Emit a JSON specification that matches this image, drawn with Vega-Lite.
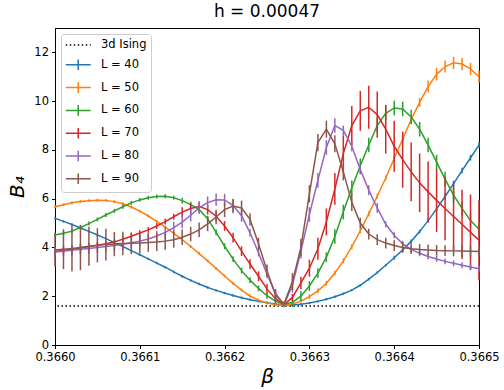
{
  "$schema": "https://vega.github.io/schema/vega-lite/v6.json",
  "width": 424,
  "height": 317,
  "autosize": "none",
  "padding": {"left": 55, "top": 28, "right": 25, "bottom": 45},
  "background": "white",
  "config": {
    "font": "DejaVu Sans",
    "view": {"stroke": "#000", "strokeWidth": 1},
    "axis": {"grid": false, "domainColor": "#000", "tickColor": "#000", "labelColor": "#000", "labelFontSize": 11.5, "tickSize": 3.5, "labelPadding": 3, "labelFlush": false, "labelFont": "DejaVu Sans", "titleFont": "DejaVu Sans", "titleFontWeight": "normal", "titleColor": "#000", "titleFontSize": 20, "titleFontStyle": "italic"}
  },
  "title": {"text": "h = 0.00047", "fontSize": 17, "fontWeight": "normal", "font": "DejaVu Sans", "offset": 7, "color": "#000"},
  "datasets": {
    "d": [
      {"L":"L = 40","b":0.36600,"y":5.20,"e":0.05},{"L":"L = 40","b":0.36601,"y":5.07,"e":0.05},{"L":"L = 40","b":0.36602,"y":4.94,"e":0.05},{"L":"L = 40","b":0.36603,"y":4.80,"e":0.05},{"L":"L = 40","b":0.36604,"y":4.66,"e":0.05},{"L":"L = 40","b":0.36605,"y":4.51,"e":0.05},{"L":"L = 40","b":0.36606,"y":4.36,"e":0.05},{"L":"L = 40","b":0.36607,"y":4.20,"e":0.05},{"L":"L = 40","b":0.36608,"y":4.04,"e":0.05},{"L":"L = 40","b":0.36609,"y":3.87,"e":0.05},
      {"L":"L = 40","b":0.36610,"y":3.70,"e":0.05},{"L":"L = 40","b":0.36611,"y":3.53,"e":0.05},{"L":"L = 40","b":0.36612,"y":3.36,"e":0.05},{"L":"L = 40","b":0.36613,"y":3.19,"e":0.05},{"L":"L = 40","b":0.36614,"y":3.00,"e":0.05},{"L":"L = 40","b":0.36615,"y":2.82,"e":0.05},{"L":"L = 40","b":0.36616,"y":2.65,"e":0.05},{"L":"L = 40","b":0.36617,"y":2.50,"e":0.05},{"L":"L = 40","b":0.36618,"y":2.36,"e":0.05},{"L":"L = 40","b":0.36619,"y":2.24,"e":0.05},
      {"L":"L = 40","b":0.36620,"y":2.13,"e":0.05},{"L":"L = 40","b":0.36621,"y":2.03,"e":0.05},{"L":"L = 40","b":0.36622,"y":1.94,"e":0.05},{"L":"L = 40","b":0.36623,"y":1.86,"e":0.05},{"L":"L = 40","b":0.36624,"y":1.79,"e":0.05},{"L":"L = 40","b":0.36625,"y":1.73,"e":0.05},{"L":"L = 40","b":0.36626,"y":1.68,"e":0.05},{"L":"L = 40","b":0.36627,"y":1.65,"e":0.05},{"L":"L = 40","b":0.36628,"y":1.64,"e":0.05},{"L":"L = 40","b":0.36629,"y":1.67,"e":0.05},
      {"L":"L = 40","b":0.36630,"y":1.72,"e":0.05},{"L":"L = 40","b":0.36631,"y":1.79,"e":0.05},{"L":"L = 40","b":0.36632,"y":1.88,"e":0.05},{"L":"L = 40","b":0.36633,"y":1.98,"e":0.05},{"L":"L = 40","b":0.36634,"y":2.10,"e":0.05},{"L":"L = 40","b":0.36635,"y":2.25,"e":0.05},{"L":"L = 40","b":0.36636,"y":2.45,"e":0.05},{"L":"L = 40","b":0.36637,"y":2.70,"e":0.05},{"L":"L = 40","b":0.36638,"y":2.97,"e":0.05},{"L":"L = 40","b":0.36639,"y":3.27,"e":0.05},
      {"L":"L = 40","b":0.36640,"y":3.58,"e":0.08},{"L":"L = 40","b":0.36641,"y":3.90,"e":0.08},{"L":"L = 40","b":0.36642,"y":4.25,"e":0.08},{"L":"L = 40","b":0.36643,"y":4.65,"e":0.08},{"L":"L = 40","b":0.36644,"y":5.10,"e":0.08},{"L":"L = 40","b":0.36645,"y":5.58,"e":0.08},{"L":"L = 40","b":0.36646,"y":6.09,"e":0.12},{"L":"L = 40","b":0.36647,"y":6.62,"e":0.12},{"L":"L = 40","b":0.36648,"y":7.15,"e":0.12},{"L":"L = 40","b":0.36649,"y":7.68,"e":0.12},{"L":"L = 40","b":0.36650,"y":8.20,"e":0.12},

      {"L":"L = 50","b":0.36600,"y":5.67,"e":0.06},{"L":"L = 50","b":0.36601,"y":5.75,"e":0.06},{"L":"L = 50","b":0.36602,"y":5.83,"e":0.06},{"L":"L = 50","b":0.36603,"y":5.88,"e":0.06},{"L":"L = 50","b":0.36604,"y":5.92,"e":0.06},{"L":"L = 50","b":0.36605,"y":5.94,"e":0.06},{"L":"L = 50","b":0.36606,"y":5.93,"e":0.06},{"L":"L = 50","b":0.36607,"y":5.88,"e":0.06},{"L":"L = 50","b":0.36608,"y":5.79,"e":0.06},{"L":"L = 50","b":0.36609,"y":5.66,"e":0.06},
      {"L":"L = 50","b":0.36610,"y":5.49,"e":0.06},{"L":"L = 50","b":0.36611,"y":5.29,"e":0.06},{"L":"L = 50","b":0.36612,"y":5.07,"e":0.06},{"L":"L = 50","b":0.36613,"y":4.83,"e":0.06},{"L":"L = 50","b":0.36614,"y":4.58,"e":0.06},{"L":"L = 50","b":0.36615,"y":4.32,"e":0.06},{"L":"L = 50","b":0.36616,"y":4.04,"e":0.06},{"L":"L = 50","b":0.36617,"y":3.75,"e":0.06},{"L":"L = 50","b":0.36618,"y":3.45,"e":0.06},{"L":"L = 50","b":0.36619,"y":3.14,"e":0.06},
      {"L":"L = 50","b":0.36620,"y":2.83,"e":0.06},{"L":"L = 50","b":0.36621,"y":2.53,"e":0.06},{"L":"L = 50","b":0.36622,"y":2.25,"e":0.06},{"L":"L = 50","b":0.36623,"y":2.01,"e":0.06},{"L":"L = 50","b":0.36624,"y":1.84,"e":0.06},{"L":"L = 50","b":0.36625,"y":1.72,"e":0.06},{"L":"L = 50","b":0.36626,"y":1.65,"e":0.06},{"L":"L = 50","b":0.36627,"y":1.63,"e":0.06},{"L":"L = 50","b":0.36628,"y":1.68,"e":0.06},{"L":"L = 50","b":0.36629,"y":1.80,"e":0.06},
      {"L":"L = 50","b":0.36630,"y":1.98,"e":0.1},{"L":"L = 50","b":0.36631,"y":2.22,"e":0.1},{"L":"L = 50","b":0.36632,"y":2.53,"e":0.1},{"L":"L = 50","b":0.36633,"y":2.95,"e":0.1},{"L":"L = 50","b":0.36634,"y":3.45,"e":0.1},{"L":"L = 50","b":0.36635,"y":4.03,"e":0.1},{"L":"L = 50","b":0.36636,"y":4.68,"e":0.1},{"L":"L = 50","b":0.36637,"y":5.38,"e":0.1},{"L":"L = 50","b":0.36638,"y":6.10,"e":0.1},{"L":"L = 50","b":0.36639,"y":6.85,"e":0.1},
      {"L":"L = 50","b":0.36640,"y":7.65,"e":0.1},{"L":"L = 50","b":0.36641,"y":8.45,"e":0.18},{"L":"L = 50","b":0.36642,"y":9.25,"e":0.18},{"L":"L = 50","b":0.36643,"y":9.95,"e":0.18},{"L":"L = 50","b":0.36644,"y":10.60,"e":0.25},{"L":"L = 50","b":0.36645,"y":11.10,"e":0.25},{"L":"L = 50","b":0.36646,"y":11.42,"e":0.25},{"L":"L = 50","b":0.36647,"y":11.57,"e":0.25},{"L":"L = 50","b":0.36648,"y":11.52,"e":0.25},{"L":"L = 50","b":0.36649,"y":11.32,"e":0.25},{"L":"L = 50","b":0.36650,"y":11.00,"e":0.25},

      {"L":"L = 60","b":0.36600,"y":4.51,"e":0.08},{"L":"L = 60","b":0.36601,"y":4.58,"e":0.08},{"L":"L = 60","b":0.36602,"y":4.67,"e":0.08},{"L":"L = 60","b":0.36603,"y":4.82,"e":0.08},{"L":"L = 60","b":0.36604,"y":4.98,"e":0.08},{"L":"L = 60","b":0.36605,"y":5.15,"e":0.08},{"L":"L = 60","b":0.36606,"y":5.33,"e":0.08},{"L":"L = 60","b":0.36607,"y":5.50,"e":0.08},{"L":"L = 60","b":0.36608,"y":5.67,"e":0.08},{"L":"L = 60","b":0.36609,"y":5.83,"e":0.08},
      {"L":"L = 60","b":0.36610,"y":5.95,"e":0.08},{"L":"L = 60","b":0.36611,"y":6.04,"e":0.08},{"L":"L = 60","b":0.36612,"y":6.09,"e":0.08},{"L":"L = 60","b":0.36613,"y":6.10,"e":0.08},{"L":"L = 60","b":0.36614,"y":6.04,"e":0.08},{"L":"L = 60","b":0.36615,"y":5.92,"e":0.12},{"L":"L = 60","b":0.36616,"y":5.76,"e":0.12},{"L":"L = 60","b":0.36617,"y":5.55,"e":0.12},{"L":"L = 60","b":0.36618,"y":5.18,"e":0.12},{"L":"L = 60","b":0.36619,"y":4.62,"e":0.12},
      {"L":"L = 60","b":0.36620,"y":4.05,"e":0.12},{"L":"L = 60","b":0.36621,"y":3.52,"e":0.12},{"L":"L = 60","b":0.36622,"y":3.05,"e":0.12},{"L":"L = 60","b":0.36623,"y":2.66,"e":0.12},{"L":"L = 60","b":0.36624,"y":2.32,"e":0.12},{"L":"L = 60","b":0.36625,"y":2.02,"e":0.12},{"L":"L = 60","b":0.36626,"y":1.80,"e":0.12},{"L":"L = 60","b":0.36627,"y":1.67,"e":0.12},{"L":"L = 60","b":0.36628,"y":1.75,"e":0.2},{"L":"L = 60","b":0.36629,"y":2.00,"e":0.2},
      {"L":"L = 60","b":0.36630,"y":2.42,"e":0.2},{"L":"L = 60","b":0.36631,"y":2.95,"e":0.2},{"L":"L = 60","b":0.36632,"y":3.60,"e":0.2},{"L":"L = 60","b":0.36633,"y":4.45,"e":0.3},{"L":"L = 60","b":0.36634,"y":5.45,"e":0.3},{"L":"L = 60","b":0.36635,"y":6.45,"e":0.3},{"L":"L = 60","b":0.36636,"y":7.35,"e":0.3},{"L":"L = 60","b":0.36637,"y":8.20,"e":0.3},{"L":"L = 60","b":0.36638,"y":9.00,"e":0.3},{"L":"L = 60","b":0.36639,"y":9.50,"e":0.3},
      {"L":"L = 60","b":0.36640,"y":9.72,"e":0.3},{"L":"L = 60","b":0.36641,"y":9.68,"e":0.3},{"L":"L = 60","b":0.36642,"y":9.35,"e":0.3},{"L":"L = 60","b":0.36643,"y":8.85,"e":0.3},{"L":"L = 60","b":0.36644,"y":8.20,"e":0.3},{"L":"L = 60","b":0.36645,"y":7.50,"e":0.3},{"L":"L = 60","b":0.36646,"y":6.80,"e":0.3},{"L":"L = 60","b":0.36647,"y":6.15,"e":0.3},{"L":"L = 60","b":0.36648,"y":5.60,"e":0.3},{"L":"L = 60","b":0.36649,"y":5.10,"e":0.3},{"L":"L = 60","b":0.36650,"y":4.75,"e":0.3},

      {"L":"L = 70","b":0.36600,"y":3.84,"e":0.12},{"L":"L = 70","b":0.36601,"y":3.88,"e":0.12},{"L":"L = 70","b":0.36602,"y":3.93,"e":0.12},{"L":"L = 70","b":0.36603,"y":3.98,"e":0.12},{"L":"L = 70","b":0.36604,"y":4.03,"e":0.12},{"L":"L = 70","b":0.36605,"y":4.09,"e":0.12},{"L":"L = 70","b":0.36606,"y":4.15,"e":0.12},{"L":"L = 70","b":0.36607,"y":4.23,"e":0.12},{"L":"L = 70","b":0.36608,"y":4.34,"e":0.12},{"L":"L = 70","b":0.36609,"y":4.46,"e":0.12},
      {"L":"L = 70","b":0.36610,"y":4.59,"e":0.12},{"L":"L = 70","b":0.36611,"y":4.72,"e":0.12},{"L":"L = 70","b":0.36612,"y":4.88,"e":0.12},{"L":"L = 70","b":0.36613,"y":5.06,"e":0.12},{"L":"L = 70","b":0.36614,"y":5.26,"e":0.12},{"L":"L = 70","b":0.36615,"y":5.45,"e":0.2},{"L":"L = 70","b":0.36616,"y":5.60,"e":0.2},{"L":"L = 70","b":0.36617,"y":5.68,"e":0.2},{"L":"L = 70","b":0.36618,"y":5.55,"e":0.2},{"L":"L = 70","b":0.36619,"y":5.28,"e":0.2},
      {"L":"L = 70","b":0.36620,"y":4.88,"e":0.2},{"L":"L = 70","b":0.36621,"y":4.40,"e":0.2},{"L":"L = 70","b":0.36622,"y":3.85,"e":0.2},{"L":"L = 70","b":0.36623,"y":3.32,"e":0.2},{"L":"L = 70","b":0.36624,"y":2.82,"e":0.2},{"L":"L = 70","b":0.36625,"y":2.30,"e":0.2},{"L":"L = 70","b":0.36626,"y":1.90,"e":0.15},{"L":"L = 70","b":0.36627,"y":1.66,"e":0.05},{"L":"L = 70","b":0.36628,"y":1.95,"e":0.15},{"L":"L = 70","b":0.36629,"y":2.55,"e":0.25},
      {"L":"L = 70","b":0.36630,"y":3.15,"e":0.35},{"L":"L = 70","b":0.36631,"y":3.95,"e":0.45},{"L":"L = 70","b":0.36632,"y":5.05,"e":0.55},{"L":"L = 70","b":0.36633,"y":6.40,"e":0.65},{"L":"L = 70","b":0.36634,"y":7.85,"e":0.75},{"L":"L = 70","b":0.36635,"y":9.00,"e":0.8},{"L":"L = 70","b":0.36636,"y":9.60,"e":0.82},{"L":"L = 70","b":0.36637,"y":9.75,"e":0.88},{"L":"L = 70","b":0.36638,"y":9.45,"e":0.95},{"L":"L = 70","b":0.36639,"y":8.85,"e":1.0},
      {"L":"L = 70","b":0.36640,"y":8.15,"e":1.05},{"L":"L = 70","b":0.36641,"y":7.60,"e":1.15},{"L":"L = 70","b":0.36642,"y":7.10,"e":1.2},{"L":"L = 70","b":0.36643,"y":6.65,"e":1.2},{"L":"L = 70","b":0.36644,"y":6.28,"e":1.25},{"L":"L = 70","b":0.36645,"y":5.93,"e":1.3},{"L":"L = 70","b":0.36646,"y":5.60,"e":1.3},{"L":"L = 70","b":0.36647,"y":5.27,"e":1.38},{"L":"L = 70","b":0.36648,"y":4.95,"e":1.42},{"L":"L = 70","b":0.36649,"y":4.62,"e":1.55},{"L":"L = 70","b":0.36650,"y":4.30,"e":1.65},

      {"L":"L = 80","b":0.36600,"y":3.80,"e":0.22},{"L":"L = 80","b":0.36601,"y":3.85,"e":0.22},{"L":"L = 80","b":0.36602,"y":3.89,"e":0.22},{"L":"L = 80","b":0.36603,"y":3.93,"e":0.22},{"L":"L = 80","b":0.36604,"y":3.96,"e":0.22},{"L":"L = 80","b":0.36605,"y":4.00,"e":0.22},{"L":"L = 80","b":0.36606,"y":4.04,"e":0.22},{"L":"L = 80","b":0.36607,"y":4.08,"e":0.22},{"L":"L = 80","b":0.36608,"y":4.13,"e":0.22},{"L":"L = 80","b":0.36609,"y":4.19,"e":0.22},
      {"L":"L = 80","b":0.36610,"y":4.26,"e":0.22},{"L":"L = 80","b":0.36611,"y":4.35,"e":0.22},{"L":"L = 80","b":0.36612,"y":4.47,"e":0.22},{"L":"L = 80","b":0.36613,"y":4.62,"e":0.25},{"L":"L = 80","b":0.36614,"y":4.81,"e":0.25},{"L":"L = 80","b":0.36615,"y":5.04,"e":0.25},{"L":"L = 80","b":0.36616,"y":5.32,"e":0.25},{"L":"L = 80","b":0.36617,"y":5.62,"e":0.25},{"L":"L = 80","b":0.36618,"y":5.84,"e":0.25},{"L":"L = 80","b":0.36619,"y":5.96,"e":0.25},
      {"L":"L = 80","b":0.36620,"y":5.95,"e":0.25},{"L":"L = 80","b":0.36621,"y":5.72,"e":0.25},{"L":"L = 80","b":0.36622,"y":5.30,"e":0.25},{"L":"L = 80","b":0.36623,"y":4.60,"e":0.15},{"L":"L = 80","b":0.36624,"y":3.78,"e":0.15},{"L":"L = 80","b":0.36625,"y":2.90,"e":0.15},{"L":"L = 80","b":0.36626,"y":2.12,"e":0.15},{"L":"L = 80","b":0.36627,"y":1.65,"e":0.05},{"L":"L = 80","b":0.36628,"y":2.45,"e":0.3},{"L":"L = 80","b":0.36629,"y":3.85,"e":0.3},
      {"L":"L = 80","b":0.36630,"y":5.35,"e":0.3},{"L":"L = 80","b":0.36631,"y":6.75,"e":0.3},{"L":"L = 80","b":0.36632,"y":8.10,"e":0.3},{"L":"L = 80","b":0.36633,"y":9.00,"e":0.3},{"L":"L = 80","b":0.36634,"y":8.80,"e":0.2},{"L":"L = 80","b":0.36635,"y":8.15,"e":0.2},{"L":"L = 80","b":0.36636,"y":7.20,"e":0.2},{"L":"L = 80","b":0.36637,"y":6.35,"e":0.2},{"L":"L = 80","b":0.36638,"y":5.62,"e":0.2},{"L":"L = 80","b":0.36639,"y":4.95,"e":0.12},
      {"L":"L = 80","b":0.36640,"y":4.50,"e":0.12},{"L":"L = 80","b":0.36641,"y":4.15,"e":0.12},{"L":"L = 80","b":0.36642,"y":3.92,"e":0.12},{"L":"L = 80","b":0.36643,"y":3.76,"e":0.12},{"L":"L = 80","b":0.36644,"y":3.63,"e":0.12},{"L":"L = 80","b":0.36645,"y":3.53,"e":0.12},{"L":"L = 80","b":0.36646,"y":3.43,"e":0.12},{"L":"L = 80","b":0.36647,"y":3.35,"e":0.12},{"L":"L = 80","b":0.36648,"y":3.27,"e":0.12},{"L":"L = 80","b":0.36649,"y":3.20,"e":0.12},{"L":"L = 80","b":0.36650,"y":3.13,"e":0.12},

      {"L":"L = 90","b":0.36600,"y":3.90,"e":0.7},{"L":"L = 90","b":0.36601,"y":3.93,"e":0.82},{"L":"L = 90","b":0.36602,"y":3.96,"e":0.95},{"L":"L = 90","b":0.36603,"y":4.00,"e":0.93},{"L":"L = 90","b":0.36604,"y":4.05,"e":0.8},{"L":"L = 90","b":0.36605,"y":4.09,"e":0.7},{"L":"L = 90","b":0.36606,"y":4.12,"e":0.65},{"L":"L = 90","b":0.36607,"y":4.14,"e":0.5},{"L":"L = 90","b":0.36608,"y":4.16,"e":0.48},{"L":"L = 90","b":0.36609,"y":4.17,"e":0.45},
      {"L":"L = 90","b":0.36610,"y":4.18,"e":0.42},{"L":"L = 90","b":0.36611,"y":4.20,"e":0.38},{"L":"L = 90","b":0.36612,"y":4.22,"e":0.36},{"L":"L = 90","b":0.36613,"y":4.26,"e":0.35},{"L":"L = 90","b":0.36614,"y":4.32,"e":0.33},{"L":"L = 90","b":0.36615,"y":4.42,"e":0.32},{"L":"L = 90","b":0.36616,"y":4.55,"e":0.3},{"L":"L = 90","b":0.36617,"y":4.72,"e":0.3},{"L":"L = 90","b":0.36618,"y":4.97,"e":0.3},{"L":"L = 90","b":0.36619,"y":5.25,"e":0.3},
      {"L":"L = 90","b":0.36620,"y":5.55,"e":0.3},{"L":"L = 90","b":0.36621,"y":5.70,"e":0.3},{"L":"L = 90","b":0.36622,"y":5.62,"e":0.3},{"L":"L = 90","b":0.36623,"y":5.15,"e":0.25},{"L":"L = 90","b":0.36624,"y":4.15,"e":0.25},{"L":"L = 90","b":0.36625,"y":3.05,"e":0.25},{"L":"L = 90","b":0.36626,"y":2.05,"e":0.25},{"L":"L = 90","b":0.36627,"y":1.68,"e":0.05},{"L":"L = 90","b":0.36628,"y":2.60,"e":0.35},{"L":"L = 90","b":0.36629,"y":4.00,"e":0.35},
      {"L":"L = 90","b":0.36630,"y":6.20,"e":0.35},{"L":"L = 90","b":0.36631,"y":8.30,"e":0.35},{"L":"L = 90","b":0.36632,"y":8.85,"e":0.35},{"L":"L = 90","b":0.36633,"y":8.25,"e":0.35},{"L":"L = 90","b":0.36634,"y":7.10,"e":0.35},{"L":"L = 90","b":0.36635,"y":5.85,"e":0.35},{"L":"L = 90","b":0.36636,"y":5.00,"e":0.22},{"L":"L = 90","b":0.36637,"y":4.55,"e":0.22},{"L":"L = 90","b":0.36638,"y":4.32,"e":0.22},{"L":"L = 90","b":0.36639,"y":4.18,"e":0.22},
      {"L":"L = 90","b":0.36640,"y":4.08,"e":0.22},{"L":"L = 90","b":0.36641,"y":4.00,"e":0.22},{"L":"L = 90","b":0.36642,"y":3.95,"e":0.22},{"L":"L = 90","b":0.36643,"y":3.92,"e":0.22},{"L":"L = 90","b":0.36644,"y":3.90,"e":0.22},{"L":"L = 90","b":0.36645,"y":3.88,"e":0.22},{"L":"L = 90","b":0.36646,"y":3.87,"e":0.22},{"L":"L = 90","b":0.36647,"y":3.86,"e":0.22},{"L":"L = 90","b":0.36648,"y":3.85,"e":0.22},{"L":"L = 90","b":0.36649,"y":3.84,"e":0.22},{"L":"L = 90","b":0.36650,"y":3.83,"e":0.22}
    ],
    "ising": [{"name": "3d Ising", "B4": 1.6}]
  },
  "layer": [
    {
      "data": {"name": "ising"},
      "mark": {"type": "rule", "strokeDash": [1.5, 2.5], "strokeWidth": 1.5},
      "encoding": {
        "y": {"field": "B4", "type": "quantitative", "title": "B₄"},
        "color": {"field": "name", "type": "nominal"}
      }
    },
    {
      "data": {"name": "d"},
      "mark": {"type": "line", "strokeWidth": 1.5},
      "encoding": {
        "x": {"field": "b", "type": "quantitative", "title": "β", "scale": {"domain": [0.366, 0.3665], "nice": false, "zero": false},
              "axis": {"values": [0.366, 0.3661, 0.3662, 0.3663, 0.3664, 0.3665], "format": ".4f", "titlePadding": 3}},
        "y": {"field": "y", "type": "quantitative", "title": "B₄", "scale": {"domain": [0, 13], "nice": false},
              "axis": {"values": [0, 2, 4, 6, 8, 10, 12], "format": "d", "titlePadding": 6}},
        "color": {"field": "L", "type": "nominal",
          "scale": {"domain": ["3d Ising", "L = 40", "L = 50", "L = 60", "L = 70", "L = 80", "L = 90"],
                    "range": ["#000000", "#1f77b4", "#ff7f0e", "#2ca02c", "#d62728", "#9467bd", "#8c564b"]},
          "legend": {
            "title": null, "orient": "top-left", "offset": 6,
            "symbolType": "M-1,0H3M1,-0.85V0.85",
            "symbolSize": 156,
            "symbolStrokeWidth": 1.5,
            "symbolFillColor": "transparent",
            "labelFontSize": 11.5, "labelColor": "#000", "labelOffset": 22,
            "fillColor": "rgba(255,255,255,0.8)", "strokeColor": "#cccccc", "cornerRadius": 3,
            "padding": 4, "rowPadding": 4.8,
            "encode": {"symbols": {"update": {
              "strokeDash": {"signal": "datum.value === '3d Ising' ? [1.5, 2.5] : [1, 0]"},
              "shape": {"signal": "datum.value === '3d Ising' ? 'M-1,0H3' : 'M-1,0H3M1,-0.85V0.85'"}
            }}}
          }
        }
      }
    },
    {
      "data": {"name": "d"},
      "mark": {"type": "errorbar", "thickness": 1.5},
      "encoding": {
        "x": {"field": "b", "type": "quantitative", "title": "β"},
        "y": {"field": "y", "type": "quantitative", "title": "B₄"},
        "yError": {"field": "e"},
        "color": {"field": "L", "type": "nominal"}
      }
    }
  ]
}
